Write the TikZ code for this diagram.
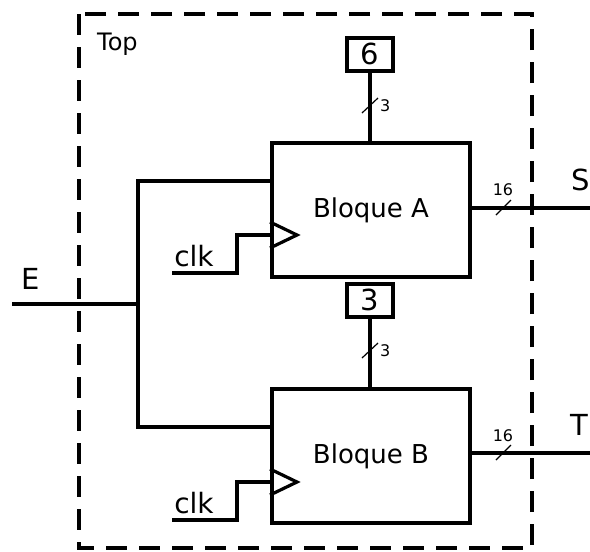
\documentclass[tikz,border=0pt]{standalone}
\usepackage{fontspec}
\setmainfont{DejaVu Sans}
\begin{document}
\begin{tikzpicture}[x=1pt,y=-1pt,
  wire/.style={line width=4pt},
  blk/.style={draw,line width=4pt,minimum width=198pt,minimum height=134pt,anchor=north west,inner sep=0pt,font=\fontsize{26}{30}\selectfont},
  cst/.style={draw,line width=4pt,minimum width=46pt,minimum height=33pt,inner sep=0pt,font=\fontsize{29}{33}\selectfont},
  lbl/.style={inner sep=0pt,font=\fontsize{29}{34}\selectfont},
  small/.style={inner sep=0pt,font=\fontsize{16}{19}\selectfont},
  slash/.style={line width=1.2pt}]
\useasboundingbox (0,0) rectangle (590,552);
% frame
\draw[line width=4pt,dash pattern=on 21pt off 12pt] (79,14) rectangle (532,548);
\node[inner sep=0pt,anchor=west,font=\fontsize{24}{28}\selectfont] (top) at (97,44) {Top};
% blocks
\node[blk] (A) at (270,141) {Bloque A};
\node[blk] (B) at (270,387) {Bloque B};
% constants
\node[cst] (c6) at (370,54) {6};
\node[cst] (c3) at (370,300) {3};
\draw[wire] (c6.south) -- (c6.south |- A.north) coordinate (a6);
\draw[wire] (c3.south) -- (c3.south |- B.north) coordinate (b3);
\draw[slash] (362,113) -- (378,98);
\node[small,anchor=west] (l3a) at (380,106) {3};
\draw[slash] (362,358) -- (378,343);
\node[small,anchor=west] (l3b) at (380,351) {3};
% outputs
\coordinate (So) at (590,208);
\coordinate (To) at (590,453);
\draw[wire] (A.east |- So) -- (So);
\draw[wire] (B.east |- To) -- (To);
\draw[slash] (496,215) -- (511,200);
\node[small] (l16a) at (503,190) {16};
\draw[slash] (496,460) -- (511,445);
\node[small] (l16b) at (503,436) {16};
\node[lbl] (S) at (581,180) {S};
\node[lbl] (T) at (579,425) {T};
% input
\coordinate (Ein) at (12,304);
\coordinate (J) at (138,304);
\draw[wire] (Ein) -- (J);
\draw[wire] (A.west |- 0,181) -| (138,427) -- (B.west |- 0,427);
\node[lbl] (E) at (31,279) {E};
% clocks
\coordinate (ca) at (172,273);
\coordinate (cb) at (172,520);
\draw[wire] (ca) -- (237,273) -- (237,235) -- (A.west |- 0,235);
\draw[wire] (cb) -- (237,520) -- (237,482) -- (B.west |- 0,482);
\draw[line width=3.2pt,line join=miter] (270,222) -- (297,235) -- (270,248);
\draw[line width=3.2pt,line join=miter] (270,469) -- (297,482) -- (270,495);
\node[lbl,font=\fontsize{28}{32}\selectfont] (clka) at (194,256) {clk};
\node[lbl,font=\fontsize{28}{32}\selectfont] (clkb) at (194,503) {clk};
\end{tikzpicture}
\end{document}
